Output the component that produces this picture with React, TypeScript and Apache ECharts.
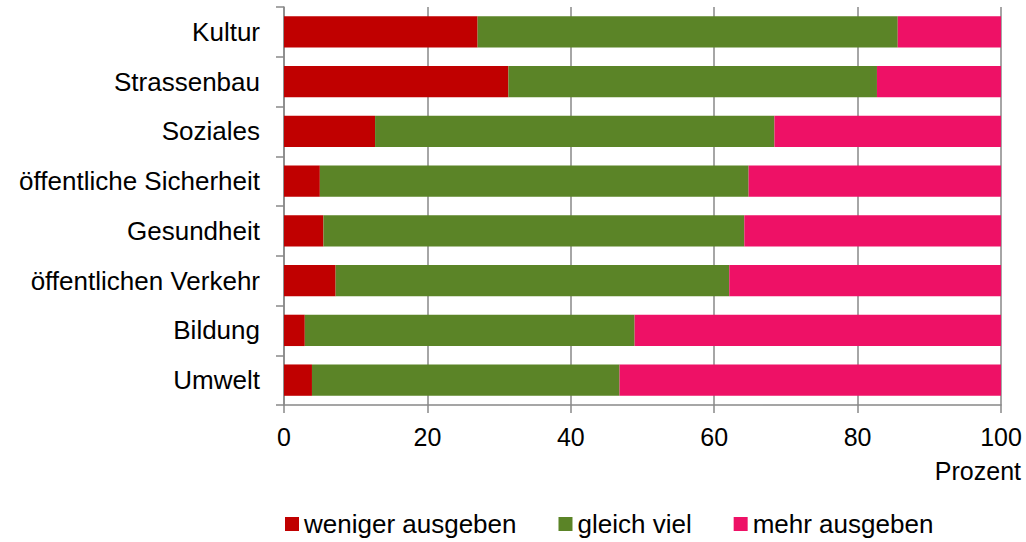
import React, { useEffect, useRef } from "react";
import * as echarts from "echarts";

const categories = [
  "Kultur",
  "Strassenbau",
  "Soziales",
  "öffentliche Sicherheit",
  "Gesundheit",
  "öffentlichen Verkehr",
  "Bildung",
  "Umwelt",
];
const weniger = [27.0, 31.3, 12.7, 5.0, 5.5, 7.2, 2.9, 3.9];
const gleich = [58.6, 51.4, 55.7, 59.8, 58.7, 54.9, 46.0, 42.9];
const mehr = [14.4, 17.3, 31.6, 35.2, 35.8, 37.9, 51.1, 53.2];
const xTicks = [0, 20, 40, 60, 80, 100];
const seriesNames = ["weniger ausgeben", "gleich viel", "mehr ausgeben"];

const FONT = "Arial, 'Liberation Sans', sans-serif";

export default function App() {
  const ref = useRef<HTMLDivElement>(null);
  useEffect(() => {
    const chart = echarts.init(ref.current!, null, { renderer: "svg" });
    const colors = ["#C00000", "#5B8427", "#EE1166"];
    const values = [weniger, gleich, mehr];
    chart.setOption({
      animation: false,
      backgroundColor: "#ffffff",
      textStyle: { fontFamily: FONT },
      grid: { left: 284, right: 25, top: 7, bottom: 137, containLabel: false },
      legend: {
        left: 285,
        top: 511,
        padding: 0,
        itemWidth: 14,
        itemHeight: 14,
        itemGap: 42,
        icon: "rect",
        textStyle: { fontFamily: FONT, fontSize: 26, color: "#000" },
        data: seriesNames,
      },
      xAxis: {
        type: "value",
        min: xTicks[0],
        max: xTicks[xTicks.length - 1],
        interval: 20,
        axisLine: { show: true, lineStyle: { color: "#888", width: 1.5 } },
        axisTick: { show: true, length: 8, lineStyle: { color: "#888", width: 1.5 } },
        splitLine: { show: true, lineStyle: { color: "#888", width: 1.5 } },
        axisLabel: { fontFamily: FONT, fontSize: 25, color: "#000", margin: 19 },
      },
      yAxis: {
        type: "category",
        inverse: true,
        data: categories,
        axisLine: { show: true, lineStyle: { color: "#888", width: 1.5 } },
        axisTick: { show: true, length: 8, lineStyle: { color: "#888", width: 1.5 } },
        axisLabel: { fontFamily: FONT, fontSize: 26, color: "#000", margin: 24 },
      },
      graphic: [
        {
          type: "text",
          right: 5,
          top: 458,
          style: { text: "Prozent", font: `25px ${FONT}`, fill: "#000" },
        },
      ],
      series: seriesNames.map((name, i) => ({
        name,
        type: "bar",
        stack: "total",
        barCategoryGap: "37%",
        itemStyle: { color: colors[i] },
        data: values[i],
      })),
    });
    return () => chart.dispose();
  }, []);
  return (
    <div
      ref={ref}
      style={{ position: "fixed", left: 0, top: 0, width: 1026, height: 542 }}
    />
  );
}
